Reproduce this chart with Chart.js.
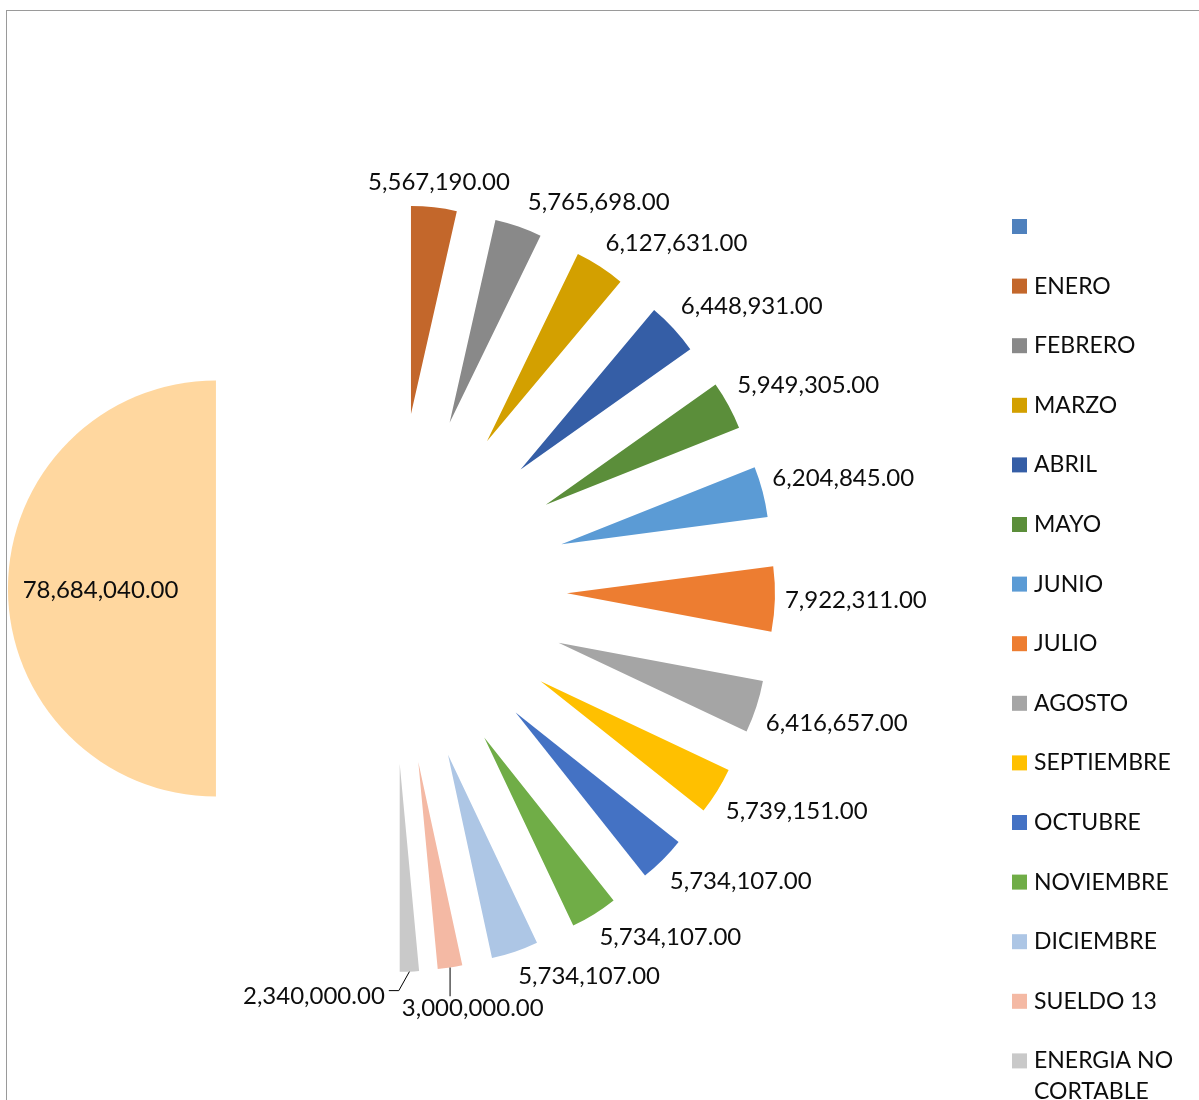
<!DOCTYPE html>
<html>
<head>
<meta charset="utf-8">
<script src="https://cdn.jsdelivr.net/npm/chart.js@4.4.1/dist/chart.umd.min.js"></script>
<style>
html, body { margin: 0; padding: 0; background: #ffffff; }
#wrap { position: relative; width: 1199px; height: 1100px; overflow: hidden; }
#c { position: absolute; left: 0; top: 0; }
#frame { position: absolute; left: 6px; top: 10px; width: 1400px; height: 1300px; border: 1px solid #9a9a9a; pointer-events: none; }
</style>
</head>
<body>
<div id="wrap">
  <canvas id="c" width="1199" height="1100"></canvas>
  <div id="frame"></div>
</div>
<script>
// ---- data ----
const categories = ['', 'ENERO', 'FEBRERO', 'MARZO', 'ABRIL', 'MAYO', 'JUNIO', 'JULIO', 'AGOSTO',
  'SEPTIEMBRE', 'OCTUBRE', 'NOVIEMBRE', 'DICIEMBRE', 'SUELDO 13', 'ENERGIA NO CORTABLE', 'TOTAL'];
const values = [0, 5567190, 5765698, 6127631, 6448931, 5949305, 6204845, 7922311, 6416657,
  5739151, 5734107, 5734107, 5734107, 3000000, 2340000, 78684040];
const sliceColors = ['#4F81BD', '#C3672B', '#898989', '#D3A000', '#355EA6', '#5B8E3A', '#5B9BD5', '#ED7D31',
  '#A5A5A5', '#FFC000', '#4472C4', '#70AD47', '#ADC6E5', '#F4B9A4', '#C9C9C9', '#FFD79F'];

// ---- style constants ----
const LABEL_FONT = '24px Lato, "Open Sans", sans-serif';
const LEGEND_FONT = '23px Lato, "Open Sans", sans-serif';
const TEXT_COLOR = '#0d0d0d';
const EXPLODE = 0.844;      // explosion as fraction of radius
const LABEL_GAP = 10;
const PAD_X = 8, PAD_Y = 4;

function fmt(v) {
  return v.toLocaleString('en-US', { minimumFractionDigits: 2, maximumFractionDigits: 2 });
}
function clamp(v, a, b) { return Math.max(a, Math.min(b, v)); }

const explodePlugin = {
  id: 'explode',
  afterDatasetUpdate(chart, args) {
    const meta = chart.getDatasetMeta(args.index);
    meta.data.forEach(arc => {
      const m = (arc.startAngle + arc.endAngle) / 2;
      const d = arc.outerRadius * EXPLODE;
      arc.x += Math.cos(m) * d;
      arc.y += Math.sin(m) * d;
    });
  }
};

const labelPlugin = {
  id: 'sliceLabels',
  afterDatasetsDraw(chart) {
    const ctx = chart.ctx;
    const meta = chart.getDatasetMeta(0);
    const vals = chart.data.datasets[0].data;
    ctx.save();
    ctx.font = LABEL_FONT;
    ctx.fillStyle = TEXT_COLOR;
    ctx.strokeStyle = '#000000';
    ctx.lineWidth = 1;
    ctx.textBaseline = 'middle';
    ctx.textAlign = 'center';
    const placed = [];
    const overlap = (a, b) => a.l < b.r && a.r > b.l && a.t < b.b && a.b > b.t;
    const inBox = (x, y, b) => x > b.l + 1 && x < b.r - 1 && y > b.t + 1 && y < b.b - 1;
    const hitsSlice = b => {
      for (let x = b.l; x <= b.r; x += 6) {
        for (let y = b.t; y <= b.b; y += 6) {
          if (meta.data.some(a => a.circumference > 0 && a.inRange(x, y))) return true;
        }
      }
      return false;
    };
    const segHits = (x1, y1, x2, y2) => {
      const n = Math.max(1, Math.ceil(Math.hypot(x2 - x1, y2 - y1) / 2));
      for (let k = 0; k <= n; k++) {
        const x = x1 + (x2 - x1) * k / n, y = y1 + (y2 - y1) * k / n;
        if (placed.some(p => inBox(x, y, p))) return true;
      }
      return false;
    };
    meta.data.forEach((arc, i) => {
      const v = vals[i];
      if (!v) return;
      const text = fmt(v);
      const m = (arc.startAngle + arc.endAngle) / 2;
      const ux = Math.cos(m), uy = Math.sin(m);
      const R = arc.outerRadius;
      const w = ctx.measureText(text).width;
      const circ = arc.endAngle - arc.startAngle;
      if (circ * R * 0.55 > w + 20) {
        ctx.fillText(text, arc.x + ux * R * 0.555, arc.y + uy * R * 0.555 + 2);
        return;
      }
      const px = arc.x + ux * R, py = arc.y + uy * R;
      const ox = arc.x + ux * (R + LABEL_GAP), oy = arc.y + uy * (R + LABEL_GAP);
      const sx = Math.sign(ux) * clamp((Math.abs(ux) - 0.1) * 5, 0, 1);
      const sy = clamp(uy * 3, -1, 1);
      const bh = 24;
      const cx0 = ox + sx * w / 2, cy0 = oy + sy * (bh / 2 + 3);
      const boxAt = (cx, cy) => ({ l: cx - w / 2 - PAD_X, r: cx + w / 2 + PAD_X, t: cy - bh / 2 - PAD_Y, b: cy + bh / 2 + PAD_Y });
      const hside = ux >= 0 ? 1 : -1;
      const dirs = [[ux, uy], [hside, 0], [-hside, 0], [0, uy >= 0 ? 1 : -1]];
      let best = null;
      const b0 = boxAt(cx0, cy0);
      if (!placed.some(p => overlap(p, b0))) {
        best = { cx: cx0, cy: cy0, s: 0 };
      } else {
        for (let s = 2; s < 320 && !best; s += 2) {
          for (const [dx, dy] of dirs) {
            const cx = cx0 + dx * s, cy = cy0 + dy * s;
            const b = boxAt(cx, cy);
            if (placed.some(p => overlap(p, b))) continue;
            if (hitsSlice(b)) continue;
            const qx = clamp(px, b.l, b.r), qy = clamp(py, b.t, b.b);
            if (segHits(px, py, qx, qy)) continue;
            best = { cx, cy, s };
            break;
          }
        }
        if (!best) best = { cx: cx0, cy: cy0, s: 0 };
      }
      const b = boxAt(best.cx, best.cy);
      placed.push(b);
      if (best.s > 6) {
        // leader: from slice edge to the label's nearest side, ending with a short horizontal tick
        const tb = { l: best.cx - w / 2 - 4, r: best.cx + w / 2 + 4, t: best.cy - bh / 2, b: best.cy + bh / 2 };
        let qx = clamp(px, tb.l, tb.r), qy = clamp(py, tb.t, tb.b);
        ctx.beginPath();
        ctx.moveTo(px, py);
        if (qx === tb.l || qx === tb.r) {
          const ty = clamp(py, tb.t + 6, tb.b - 6);
          const tx = qx === tb.l ? qx - 10 : qx + 10;
          ctx.lineTo(tx, ty);
          ctx.lineTo(qx, ty);
        } else {
          ctx.lineTo(qx, qy);
        }
        ctx.stroke();
      }
      ctx.fillText(text, best.cx, best.cy);
    });
    ctx.restore();
  }
};

const legendPlugin = {
  id: 'sideLegend',
  afterDraw(chart) {
    const ctx = chart.ctx;
    const boxX = 1012, textX = 1034, y0 = 226.5, step = 59.6, box = 15, lineH = 31;
    const maxW = chart.width - textX - 8;
    ctx.save();
    ctx.font = LEGEND_FONT;
    ctx.textBaseline = 'middle';
    ctx.textAlign = 'left';
    chart.data.labels.forEach((lab, i) => {
      const y = y0 + i * step;
      ctx.fillStyle = sliceColors[i];
      ctx.fillRect(boxX, y - box / 2, box, box);
      ctx.fillStyle = TEXT_COLOR;
      const words = lab.split(' ');
      const lines = [];
      let cur = '';
      words.forEach(wd => {
        const t = cur ? cur + ' ' + wd : wd;
        if (cur && ctx.measureText(t).width > maxW) { lines.push(cur); cur = wd; } else cur = t;
      });
      if (cur) lines.push(cur);
      lines.forEach((ln, k) => ctx.fillText(ln, textX, y + k * lineH));
    });
    ctx.restore();
  }
};

new Chart(document.getElementById('c'), {
  type: 'pie',
  data: {
    labels: categories,
    datasets: [{
      data: values,
      backgroundColor: sliceColors,
      borderWidth: 0,
      radius: 208
    }]
  },
  options: {
    responsive: false,
    animation: false,
    events: [],
    layout: { padding: { left: 0, right: 416, top: 77, bottom: 0 } },
    plugins: { legend: { display: false }, tooltip: { enabled: false } }
  },
  plugins: [explodePlugin, labelPlugin, legendPlugin]
});
</script>
</body>
</html>
